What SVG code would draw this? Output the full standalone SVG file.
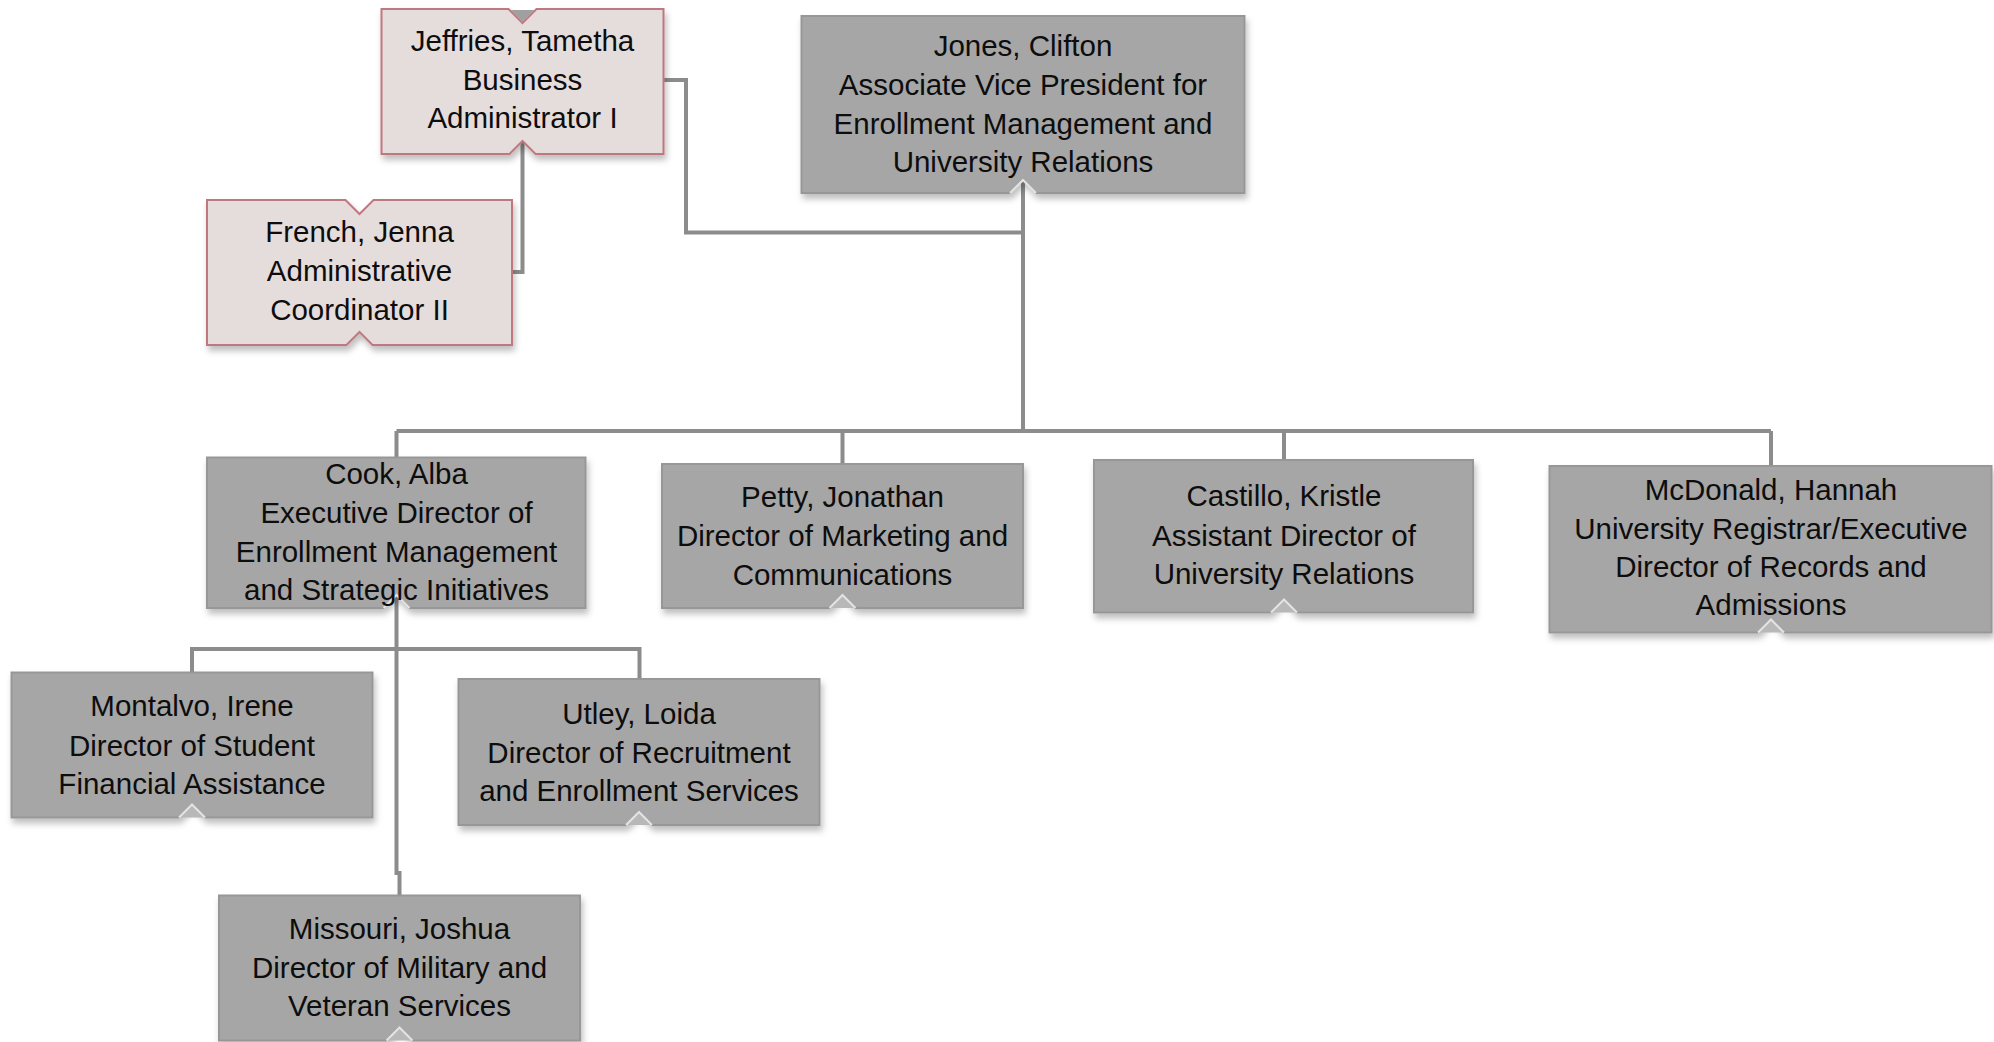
<svg xmlns="http://www.w3.org/2000/svg" width="1994" height="1042" viewBox="0 0 1994 1042">
<defs>
<filter id="sh" x="-10%" y="-10%" width="125%" height="130%">
<feDropShadow dx="2" dy="5" stdDeviation="3" flood-color="#000" flood-opacity="0.25"/>
</filter>
<style>
.box{fill:#a6a6a6;stroke:#979797;stroke-width:2;filter:url(#sh)}
.pink{fill:#e5dcdc;stroke:#c07880;stroke-width:2;filter:url(#sh)}
.conn{fill:none;stroke:#8c8c8c;stroke-width:4}
.notch{fill:#b8b8b8;stroke:#e4e4e4;stroke-width:2}
.notch-open{fill:none;stroke:#e4e4e4;stroke-width:2}
text{font-family:"Liberation Sans",Arial,sans-serif;font-size:29.5px;fill:#0d0d0d;text-anchor:middle}
</style>
</defs>
<rect width="1994" height="1042" fill="#fff"/>
<g id="connectors">
<path class="conn" d="M1023 181 V431"/>
<path class="conn" d="M396.5 431 H1771"/>
<path class="conn" d="M396.5 431 V457.5 M842.5 431 V464 M1284 431 V460 M1771 431 V466"/>
<path class="conn" d="M663.5 80 H686 V232.5 H1023"/>
<path class="conn" d="M512 272 H522.5 V142"/>
<path class="conn" d="M396.5 596 V873 H399.5 V895.5"/>
<path class="conn" d="M192 672.5 V649 H639.5 V679"/>
</g>
<g id="jeffries">
<path class="pink" d="M381.5 9 H508.5 L522.5 23 L536.5 9 H663.5 V154 H535.5 L522.5 141 L509.5 154 H381.5 Z"/>
<path d="M510.5 10 L522.5 22 L534.5 10 Z" fill="#a0a0a0"/>
<text x="522.5" y="51">Jeffries, Tametha</text>
<text x="522.5" y="89.5">Business</text>
<text x="522.5" y="128">Administrator I</text>
</g>
<g id="french">
<path class="pink" d="M207 200 H345.5 L359.5 214 L373.5 200 H512 V345 H372.5 L359.5 332 L346.5 345 H207 Z"/>
<text x="359.5" y="242">French, Jenna</text>
<text x="359.5" y="281">Administrative</text>
<text x="359.5" y="319.5">Coordinator II</text>
</g>
<g id="jones">
<path class="box" d="M801.5 16 H1244.5 V193 H1036 L1023 180 L1010 193 H801.5 Z"/>
<path class="notch-open" d="M1010 193 L1023 180 L1036 193"/>
<text x="1023" y="56">Jones, Clifton</text>
<text x="1023" y="95">Associate Vice President for</text>
<text x="1023" y="133.5">Enrollment Management and</text>
<text x="1023" y="172">University Relations</text>
</g>
<g id="cook">
<path class="box" d="M207 457.5 H585.5 V608 H409.5 L396.5 595 L383.5 608 H207 Z"/>
<path class="notch-open" d="M383.5 608 L396.5 595 L409.5 608"/>
<text x="396.5" y="484">Cook, Alba</text>
<text x="396.5" y="523">Executive Director of</text>
<text x="396.5" y="562">Enrollment Management</text>
<text x="396.5" y="600">and Strategic Initiatives</text>
</g>
<g id="petty">
<path class="box" d="M662 464 H1023 V608 H855.5 L842.5 595 L829.5 608 H662 Z"/>
<path class="notch" d="M829.5 608 L842.5 595 L855.5 608"/>
<text x="842.5" y="507">Petty, Jonathan</text>
<text x="842.5" y="546">Director of Marketing and</text>
<text x="842.5" y="584.5">Communications</text>
</g>
<g id="castillo">
<path class="box" d="M1094 460 H1473 V612.5 H1297 L1284 599.5 L1271 612.5 H1094 Z"/>
<path class="notch" d="M1271 612.5 L1284 599.5 L1297 612.5"/>
<text x="1284" y="506">Castillo, Kristle</text>
<text x="1284" y="545.5">Assistant Director of</text>
<text x="1284" y="583.5">University Relations</text>
</g>
<g id="mcdonald">
<path class="box" d="M1549.5 466 H1991.5 V632.5 H1784 L1771 619.5 L1758 632.5 H1549.5 Z"/>
<path class="notch" d="M1758 632.5 L1771 619.5 L1784 632.5"/>
<text x="1771" y="499.5">McDonald, Hannah</text>
<text x="1771" y="538.5">University Registrar/Executive</text>
<text x="1771" y="577">Director of Records and</text>
<text x="1771" y="615">Admissions</text>
</g>
<g id="montalvo">
<path class="box" d="M11.5 672.5 H372.5 V817.5 H205 L192 804.5 L179 817.5 H11.5 Z"/>
<path class="notch" d="M179 817.5 L192 804.5 L205 817.5"/>
<text x="192" y="716">Montalvo, Irene</text>
<text x="192" y="755.5">Director of Student</text>
<text x="192" y="794">Financial Assistance</text>
</g>
<g id="utley">
<path class="box" d="M458.5 679 H819.5 V825 H652 L639 812 L626 825 H458.5 Z"/>
<path class="notch" d="M626 825 L639 812 L652 825"/>
<text x="639" y="723.5">Utley, Loida</text>
<text x="639" y="762.5">Director of Recruitment</text>
<text x="639" y="800.5">and Enrollment Services</text>
</g>
<g id="missouri">
<path class="box" d="M219 895.5 H580 V1040.5 H412.5 L399.5 1027.5 L386.5 1040.5 H219 Z"/>
<path class="notch" d="M386.5 1040.5 L399.5 1027.5 L412.5 1040.5"/>
<text x="399.5" y="938.5">Missouri, Joshua</text>
<text x="399.5" y="977.5">Director of Military and</text>
<text x="399.5" y="1015.5">Veteran Services</text>
</g>
</svg>
